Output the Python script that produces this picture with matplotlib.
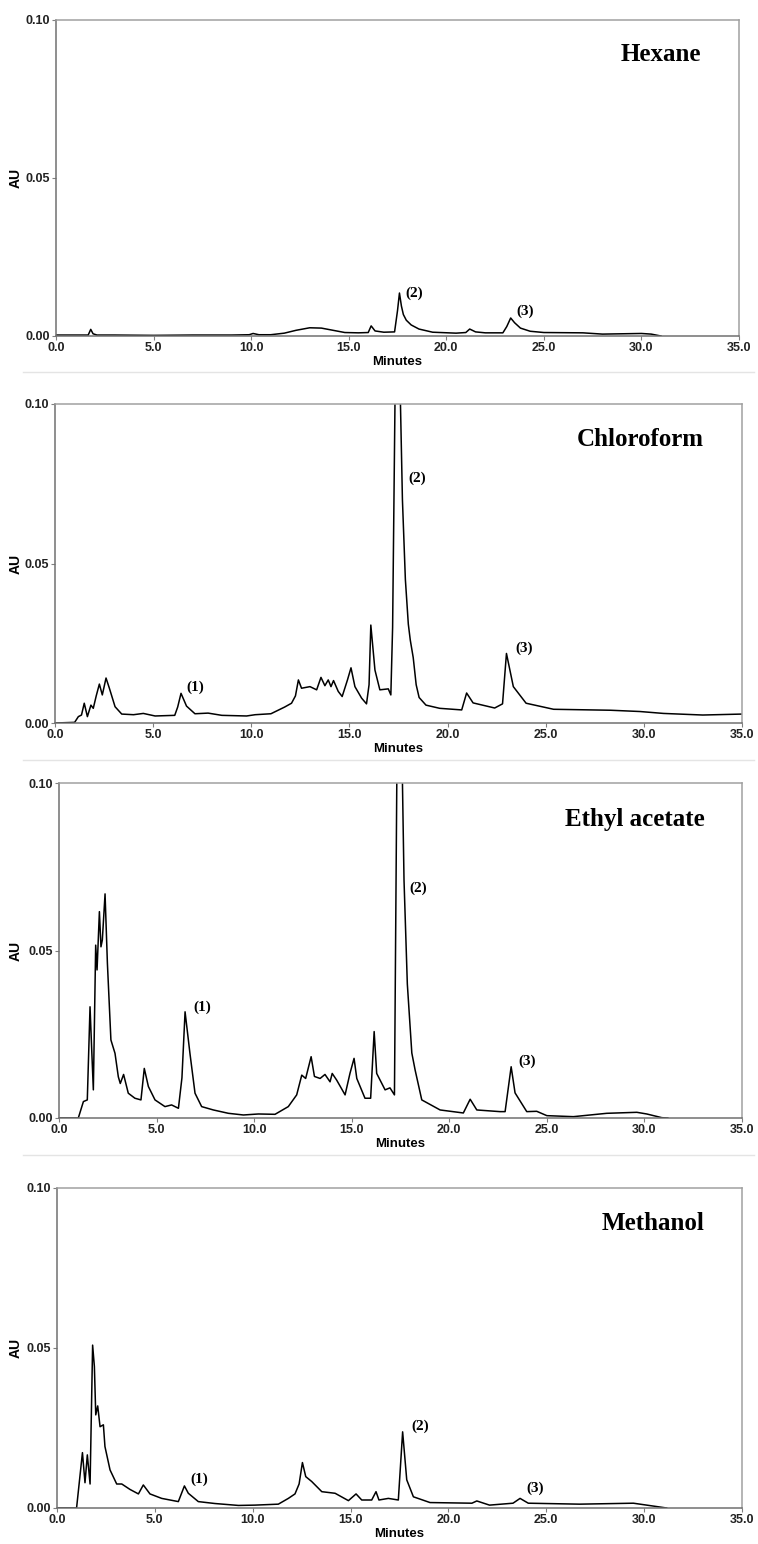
import numpy as np
import matplotlib
matplotlib.use("Agg")
import matplotlib.pyplot as plt
from matplotlib.lines import Line2D
from matplotlib.ticker import FormatStrFormatter

# ---- data (time in minutes, absorbance in AU) ----
hex_t = [0, 1.65, 1.78, 1.9, 2.1, 3, 5, 7, 9, 9.9, 10.1, 10.4, 11, 11.7, 12.3, 13.0,
         13.6, 14.2, 14.8, 15.5, 16.0, 16.15, 16.35, 16.8, 17.35, 17.5, 17.6, 17.7,
         17.8, 17.95, 18.2, 18.6, 19.3, 20.5, 21.0, 21.2, 21.5, 22.0, 22.9, 23.1, 23.3,
         23.5, 23.8, 24.3, 25.0, 27.0, 28.0, 29.0, 30.0, 30.5, 31.0]
hex_au = [0.0003, 0.0003, 0.0021, 0.0007, 0.0003, 0.0003, 0.0002, 0.0003, 0.0003, 0.0004,
          0.0008, 0.0004, 0.0004, 0.0009, 0.0018, 0.0026, 0.0025, 0.0018, 0.0011, 0.0010,
          0.0011, 0.0032, 0.0016, 0.0012, 0.0013, 0.0080, 0.0136, 0.0095, 0.0068, 0.0050,
          0.0035, 0.0022, 0.0012, 0.0009, 0.0011, 0.0022, 0.0013, 0.0010, 0.0010, 0.0030,
          0.0057, 0.0042, 0.0025, 0.0015, 0.0011, 0.0010, 0.0006, 0.0007, 0.0008, 0.0006, 0.0]

chl_t = [0, 1.0, 1.19, 1.35, 1.49, 1.65, 1.83, 1.95, 2.1, 2.26, 2.41, 2.6, 2.77, 3.06, 3.4,
         4.0, 4.5, 5.1, 6.1, 6.25, 6.42, 6.7, 7.13, 7.8, 8.5, 9.76, 10.2, 11.0, 11.7, 12.05,
         12.25, 12.4, 12.56, 12.99, 13.33, 13.55, 13.75, 13.92, 14.06, 14.19, 14.43, 14.63,
         14.9, 15.08, 15.28, 15.62, 15.87, 16.0, 16.09, 16.3, 16.55, 16.98, 17.11, 17.2,
         17.32, 17.45, 17.6, 17.7, 17.85, 18.0, 18.1, 18.25, 18.4, 18.55, 18.9, 19.6, 20.72,
         20.97, 21.3, 22.4, 22.8, 23.0, 23.35, 24.0, 25.4, 28.3, 29.8, 31.0, 33.0, 35.0]
chl_au = [0.0, 0.0002, 0.002, 0.0025, 0.0062, 0.002, 0.0056, 0.0046, 0.0085, 0.0122,
          0.0088, 0.0141, 0.0109, 0.0051, 0.0028, 0.0026, 0.003, 0.0022, 0.0024, 0.005,
          0.0093, 0.0053, 0.0029, 0.0031, 0.0024, 0.0022, 0.0026, 0.0029, 0.005, 0.0062,
          0.0085, 0.0135, 0.0109, 0.0114, 0.0104, 0.0143, 0.0117, 0.0135, 0.0114, 0.0133,
          0.0099, 0.0083, 0.0135, 0.0173, 0.0114, 0.0078, 0.006, 0.012, 0.0307, 0.0166,
          0.0104, 0.0107, 0.0088, 0.03, 0.1, 0.13, 0.1, 0.07, 0.045, 0.031, 0.026, 0.0205,
          0.012, 0.008, 0.0056, 0.0046, 0.0041, 0.0094, 0.0063, 0.0047, 0.006, 0.0218,
          0.0114, 0.0062, 0.0043, 0.004, 0.0036, 0.003, 0.0025, 0.0028]

eth_t = [0, 0.99, 1.25, 1.45, 1.59, 1.67, 1.76, 1.88, 1.95, 2.07, 2.15, 2.22, 2.36, 2.48,
         2.66, 2.87, 3.04, 3.14, 3.31, 3.55, 3.89, 4.2, 4.37, 4.58, 4.92, 5.43, 5.77, 6.12,
         6.3, 6.46, 6.71, 6.97, 7.31, 7.91, 8.68, 9.45, 10.22, 11.07, 11.75, 12.18, 12.44,
         12.64, 12.92, 13.09, 13.38, 13.63, 13.89, 14.0, 14.23, 14.66, 14.91, 15.12, 15.26,
         15.68, 15.97, 16.15, 16.28, 16.71, 16.96, 17.19, 17.31, 17.45, 17.6, 17.68, 17.85,
         18.08, 18.25, 18.59, 19.53, 20.72, 21.07, 21.41, 22.6, 22.86, 23.17, 23.37, 23.97,
         24.48, 25.0, 26.36, 28.07, 29.61, 30.12, 30.89, 31.2]
eth_au = [0.0, 0.0, 0.0049, 0.0054, 0.0332, 0.0213, 0.0084, 0.0516, 0.0442, 0.0616, 0.0511,
          0.0531, 0.0669, 0.0462, 0.0233, 0.0193, 0.0123, 0.0103, 0.013, 0.0074, 0.0059,
          0.0054, 0.0148, 0.0094, 0.0054, 0.0034, 0.0039, 0.0029, 0.012, 0.0317, 0.0193,
          0.0074, 0.0034, 0.0024, 0.0014, 0.0009, 0.0012, 0.0011, 0.0034, 0.0069, 0.0128,
          0.0118, 0.0183, 0.0124, 0.0118, 0.013, 0.0108, 0.0133, 0.0113, 0.0069, 0.0133,
          0.0178, 0.0118, 0.0059, 0.0059, 0.0258, 0.0133, 0.0084, 0.009, 0.0069, 0.1, 0.14,
          0.1, 0.071, 0.04, 0.0194, 0.0143, 0.0054, 0.0024, 0.0015, 0.0056, 0.0024, 0.0019,
          0.0019, 0.0153, 0.0075, 0.0019, 0.002, 0.0007, 0.0004, 0.0014, 0.0017, 0.0012,
          0.0001, 0.0]

met_t = [0, 1.0, 1.3, 1.43, 1.55, 1.69, 1.82, 1.91, 1.98, 2.08, 2.2, 2.37, 2.45, 2.71, 3.05,
         3.31, 3.73, 4.16, 4.41, 4.75, 5.35, 6.2, 6.51, 6.71, 7.22, 8.07, 9.27, 10.12, 11.31,
         11.82, 12.16, 12.37, 12.54, 12.71, 13.01, 13.53, 14.21, 14.89, 15.28, 15.57, 16.08,
         16.3, 16.45, 16.93, 17.44, 17.66, 17.87, 18.21, 19.06, 21.2, 21.45, 22.1, 23.3,
         23.66, 24.08, 26.7, 29.45, 30.13, 31.15]
met_au = [0.0, 0.0, 0.0173, 0.0079, 0.0166, 0.0075, 0.0509, 0.0442, 0.0291, 0.0319, 0.0254,
          0.026, 0.0192, 0.0119, 0.0075, 0.0075, 0.0058, 0.0044, 0.0072, 0.0044, 0.003, 0.002,
          0.0069, 0.0046, 0.002, 0.0014, 0.0008, 0.0009, 0.0012, 0.003, 0.0044, 0.0075,
          0.0142, 0.0098, 0.0083, 0.0051, 0.0046, 0.0023, 0.0044, 0.0025, 0.0025, 0.0051,
          0.0025, 0.003, 0.0025, 0.0238, 0.0088, 0.0035, 0.0017, 0.0015, 0.0022, 0.0009,
          0.0015, 0.003, 0.0015, 0.0012, 0.0015, 0.0009, 0.0]

solvents = ["Hexane", "Chloroform", "Ethyl acetate", "Methanol"]
traces = [(hex_t, hex_au), (chl_t, chl_au), (eth_t, eth_au), (met_t, met_au)]

# peak labels: (text, time, AU) per panel
peak_labels = [
    [("(2)", 17.89, 0.0136), ("(3)", 23.61, 0.0077)],
    [("(1)", 6.71, 0.0112), ("(2)", 18.0, 0.0767), ("(3)", 23.43, 0.0234)],
    [("(1)", 6.88, 0.0332), ("(2)", 17.96, 0.0686), ("(3)", 23.54, 0.0168)],
    [("(1)", 6.8, 0.0090), ("(2)", 18.12, 0.0254), ("(3)", 24.0, 0.0062)],
]

# axes boxes in pixels: left, top, right, bottom
W, H = 758, 1544
boxes = [(56, 20, 739, 336), (55, 404, 742, 723), (59, 783, 742, 1118), (57, 1188, 742, 1508)]
sep_y = [372, 760, 1155]

fig = plt.figure(figsize=(W / 100, H / 100), dpi=100)
sans = "Liberation Sans"
serif = "Liberation Serif"

for i, (l, t, r, b) in enumerate(boxes):
    ax = fig.add_axes([l / W, 1 - b / H, (r - l) / W, (b - t) / H])
    x, y = traces[i]
    ax.plot(x, y, color="black", lw=1.1)
    ax.set_xlim(0, 35)
    ax.set_ylim(0, 0.10)
    ax.set_xticks([0, 5, 10, 15, 20, 25, 30, 35])
    ax.set_yticks([0, 0.05, 0.10])
    ax.xaxis.set_major_formatter(FormatStrFormatter("%.1f"))
    ax.yaxis.set_major_formatter(FormatStrFormatter("%.2f"))
    ax.tick_params(length=3, width=0.8, color="#808080", pad=1.5, labelsize=9)
    for lab in ax.get_xticklabels() + ax.get_yticklabels():
        lab.set_fontfamily(sans)
        lab.set_fontweight("bold")
        lab.set_color("#222222")
    for s in ax.spines.values():
        s.set_color("#a0a0a0")
        s.set_linewidth(1.1)
    ax.spines["left"].set_color("#707070")
    ax.spines["bottom"].set_color("#707070")
    ax.set_xlabel("Minutes", fontfamily=sans, fontweight="bold", fontsize=9.5)
    ax.xaxis.set_label_coords(0.5, -26 / (b - t), transform=ax.transAxes)
    ax.xaxis.label.set_va("center")
    ax.set_ylabel("AU", fontfamily=sans, fontweight="bold", fontsize=10)
    ax.yaxis.set_label_coords((16 - l) / (r - l), 0.5, transform=ax.transAxes)
    ax.yaxis.label.set_va("center")
    ax.text(0.945, 0.89, solvents[i], transform=ax.transAxes, ha="right", va="center",
            fontfamily=serif, fontweight="bold", fontsize=18)
    for txt, px, py in peak_labels[i]:
        ax.text(px, py, txt, ha="left", va="center", fontfamily=serif,
                fontweight="bold", fontsize=11)

# faint frame lines left over from the stacked panels
for ys in sep_y:
    fig.add_artist(Line2D([0.03, 0.995], [1 - ys / H, 1 - ys / H], color="#e4e4e4", lw=1.0))

fig.savefig("out.png", dpi=100, facecolor="white")
